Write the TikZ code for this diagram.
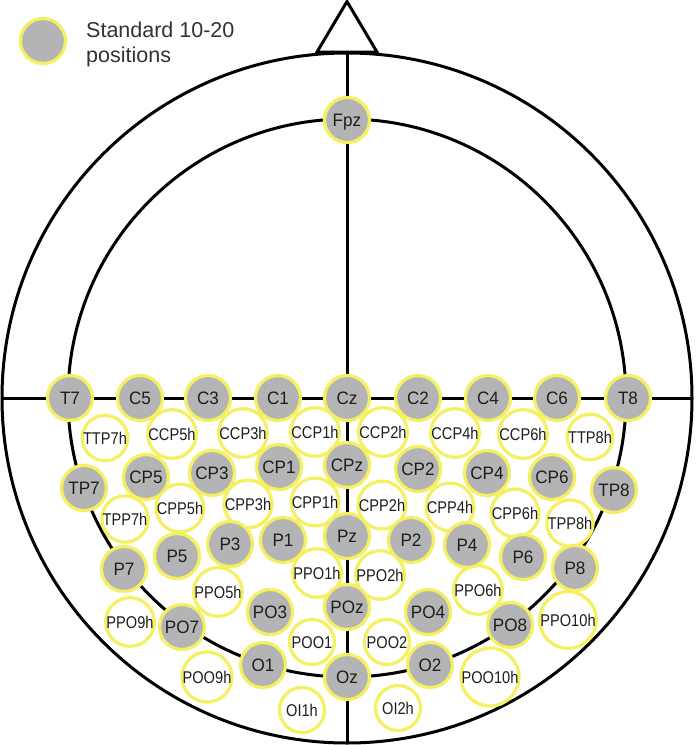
\documentclass[tikz,border=0pt]{standalone}
\usepackage{fontspec}
\setmainfont{Liberation Sans}
\newfontfamily\grayfont[FakeStretch=0.95]{Liberation Sans}
\newfontfamily\whitefont[FakeStretch=0.86]{Liberation Sans}
\definecolor{elyellow}{RGB}{244,240,96}
\definecolor{elgray}{RGB}{180,180,182}
\definecolor{eltext}{RGB}{30,30,30}
\definecolor{legtext}{RGB}{50,50,50}
\begin{document}
\begin{tikzpicture}[x=1pt,y=-1pt,
  line/.style={line width=3pt, black},
  std/.style={circle, draw=elyellow, line width=3.2pt, fill=elgray, minimum size=45pt, inner sep=0pt,
    text=eltext, font=\grayfont\fontsize{18}{18}\selectfont, text height=12.9pt, text depth=0pt},
  half/.style={std, fill=white, font=\whitefont\fontsize{17}{17}\selectfont, text height=12.2pt}]
\useasboundingbox (0,0) rectangle (696,745);
\fill[white] (0,0) rectangle (696,745);
% head outline
\coordinate (ctr) at (347,398);
\draw[line] (ctr) circle[radius=345pt];
\draw[line] (ctr) circle[radius=279pt];
\coordinate (apex) at (347,1.5);
\coordinate (tl) at (317,52);
\coordinate (tr) at (377,52);
\draw[line, line join=miter] (tl) -- (apex) -- (tr) -- cycle;
\coordinate (top) at (347,52);
\coordinate (bot) at (347,744);
\coordinate (lft) at (2,398);
\coordinate (rgt) at (692,398);
\draw[line] (top) -- (bot);
\draw[line] (lft) -- (rgt);
% legend
\node[std] (legend) at (43,41) {};
\node[anchor=north west, inner sep=0pt, align=left, text=legtext, font=\fontsize{21.5}{25}\selectfont] (legendtext) at (86,21.5) {Standard 10-20\\positions};
% half positions (white)
\foreach \n/\x/\y in {TTP7h/105/438, CCP5h/172/434, CCP3h/243/433, CCP1h/315/432, CCP2h/383/432, CCP4h/455/433, CCP6h/523/434, TTP8h/590/437,
  TPP7h/125/519, CPP5h/180/508, CPP3h/248/504, CPP1h/315/502, CPP2h/382/505, CPP4h/450/507, CPP6h/515/513, TPP8h/570/523,
  PPO9h/130/622, PPO5h/218/592, PPO1h/317/573, PPO2h/380/575, PPO6h/478/590, PPO10h/568/620,
  POO9h/207/677, POO1/312/642, POO2/387/642, POO10h/490/677, OI1h/302/710, OI2h/398/708}
  \node[half] (\n) at (\x,\y) {\n};
% standard positions (gray)
\foreach \n/\x/\y in {Fpz/347/120,
  T7/70/398, C5/140/398, C3/208/398, C1/278/398, Cz/347/398, C2/418/398, C4/488/398, C6/557/398, T8/628/398,
  TP7/84/488, CP5/146/477, CP3/212/473, CP1/279/467, CPz/347/465, CP2/418/469, CP4/487/473, CP6/552/477, TP8/614/490,
  P7/124/569, P5/177/556, P3/230/544, P1/283/540, Pz/347/536, P2/411/540, P4/467/545, P6/523/557, P8/575/568,
  PO7/182/627, PO3/270/612, POz/347/607, PO4/428/612, PO8/510/625,
  O1/263/665, Oz/347/677, O2/430/665}
  \node[std] (\n) at (\x,\y) {\n};
\end{tikzpicture}
\end{document}
